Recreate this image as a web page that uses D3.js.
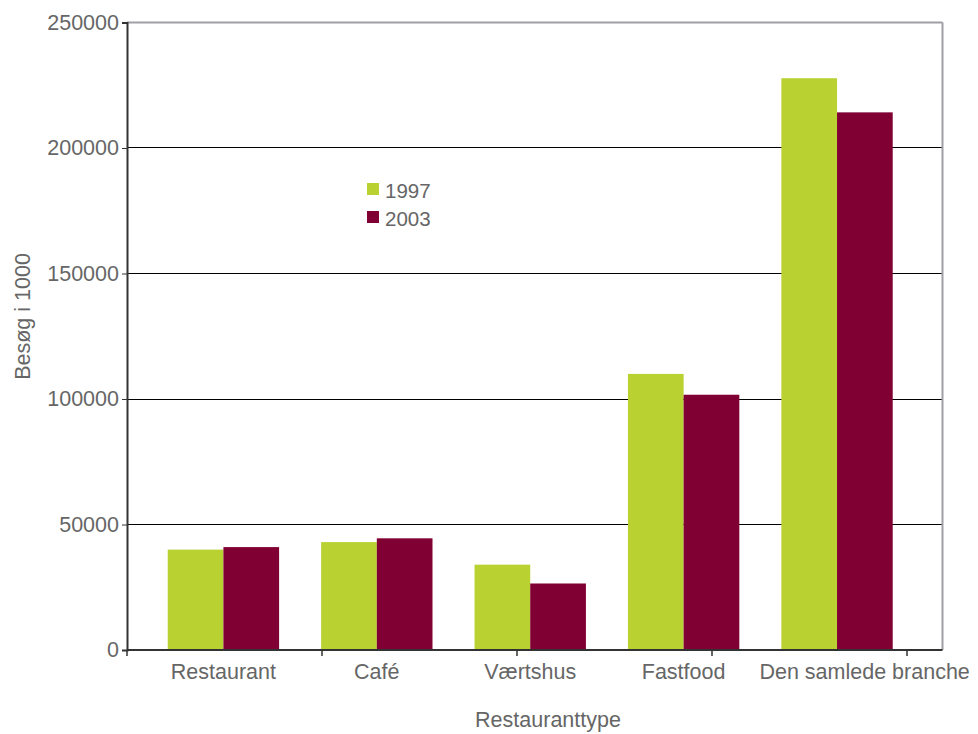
<!DOCTYPE html>
<html>
<head>
<meta charset="utf-8">
<script src="https://cdn.jsdelivr.net/npm/d3@7"></script>
<style>
  html, body { margin: 0; padding: 0; background: #fff; }
  svg { display: block; font-family: "Liberation Sans", Arial, sans-serif; }
</style>
</head>
<body>
<svg id="chart" width="978" height="734"></svg>
<script>
// Restaurant visits (thousands) by restaurant type, 1997 vs 2003
const categories = ["Restaurant", "Café", "Værtshus", "Fastfood", "Den samlede branche"];
const years = ["1997", "2003"];
const visits1997 = [40000, 43000, 34000, 110000, 227800];
const visits2003 = [41000, 44500, 26500, 101700, 214200];
const yTicks = [0, 50000, 100000, 150000, 200000, 250000];
const yTitle = "Besøg i 1000";
const xTitle = "Restauranttype";

const colors = { "1997": "#b9d232", "2003": "#800033" };
const textColor = "#666666";
const fontSize = 21.5;

const rows = categories.map((c, i) => ({ cat: c, "1997": visits1997[i], "2003": visits2003[i] }));

const svg = d3.select("#chart");
const m = { left: 127, right: 978 - 942.5, top: 22.5, bottom: 734 - 650 };
const W = 978 - m.left - m.right;
const H = 734 - m.top - m.bottom;

const g = svg.append("g").attr("transform", `translate(${m.left},${m.top})`);

const y = d3.scaleLinear().domain([0, 250000]).range([H, 0]);

const x0 = d3.scaleBand().domain(categories).range([0, W])
  .paddingInner(0.274).paddingOuter(0.295).align(0.45);
const x1 = d3.scaleBand().domain(years).range([0, x0.bandwidth()]);

// Horizontal gridlines
g.append("g").selectAll("line").data(yTicks.filter(t => t > 0 && t < 250000)).join("line")
  .attr("x1", 0).attr("x2", W)
  .attr("y1", d => Math.round(y(d))).attr("y2", d => Math.round(y(d)))
  .attr("stroke", "#000").attr("stroke-width", 1);

// Frame: top and right edges
g.append("line").attr("x1", 0).attr("x2", W).attr("y1", 0).attr("y2", 0)
  .attr("stroke", "#a0a0a4").attr("stroke-width", 2);
g.append("line").attr("x1", W).attr("x2", W).attr("y1", 0).attr("y2", H)
  .attr("stroke", "#a0a0a4").attr("stroke-width", 2);

// Bars
g.append("g").selectAll("g").data(rows).join("g")
  .attr("transform", d => `translate(${x0(d.cat)},0)`)
  .selectAll("rect").data(d => years.map(k => ({ key: k, value: d[k] }))).join("rect")
  .attr("x", d => x1(d.key))
  .attr("width", x1.bandwidth())
  .attr("y", d => y(d.value))
  .attr("height", d => H - y(d.value))
  .attr("fill", d => colors[d.key]);

// Y axis
const yAxis = g.append("g")
  .call(d3.axisLeft(y).tickValues(yTicks).tickFormat(d3.format("d")).tickSize(5).tickPadding(3));
yAxis.select(".domain").attr("stroke", "#333").attr("stroke-width", 2);
yAxis.selectAll(".tick line").attr("stroke", "#333");
yAxis.selectAll(".tick text").attr("fill", textColor).attr("font-size", fontSize)
  .attr("font-family", "Liberation Sans, Arial, sans-serif");

// X axis: baseline, category separators and labels
g.append("line").attr("x1", 0).attr("x2", W).attr("y1", H).attr("y2", H)
  .attr("stroke", "#333").attr("stroke-width", 2);
const sep = d3.scaleLinear().domain([0, 4]).range([0, 780]);
g.append("g").selectAll("line").data(d3.range(5)).join("line")
  .attr("x1", d => sep(d)).attr("x2", d => sep(d))
  .attr("y1", H).attr("y2", H + 6)
  .attr("stroke", "#333").attr("stroke-width", 1.5);

const catLabels = g.append("g").selectAll("text").data(categories).join("text")
  .attr("x", d => x0(d) + x0.bandwidth() / 2)
  .attr("y", H + 29)
  .attr("text-anchor", "middle")
  .attr("fill", textColor).attr("font-size", fontSize)
  .text(d => d);

// Keep a clear gap between neighbouring category labels
const minGap = 34;
let prevRight = -Infinity;
catLabels.each(function () {
  const t = d3.select(this);
  const w = this.getComputedTextLength();
  let cx = +t.attr("x");
  if (cx - w / 2 < prevRight + minGap) cx = prevRight + minGap + w / 2;
  t.attr("x", cx);
  prevRight = cx + w / 2;
});

// Axis titles
svg.append("text")
  .attr("transform", "translate(29.5,316.5) rotate(-90)")
  .attr("text-anchor", "middle").attr("fill", textColor).attr("font-size", fontSize)
  .text(yTitle);
svg.append("text")
  .attr("x", 548).attr("y", 727)
  .attr("text-anchor", "middle").attr("fill", textColor).attr("font-size", fontSize)
  .text(xTitle);

// Legend
const legend = svg.append("g").attr("transform", "translate(367,183)");
const li = legend.selectAll("g").data(years).join("g")
  .attr("transform", (d, i) => `translate(0,${i * 28})`);
li.append("rect").attr("width", 12).attr("height", 12).attr("fill", d => colors[d]);
li.append("text").attr("x", 18).attr("y", 14.5)
  .attr("fill", textColor).attr("font-size", 20.5).text(d => d);
</script>
</body>
</html>
